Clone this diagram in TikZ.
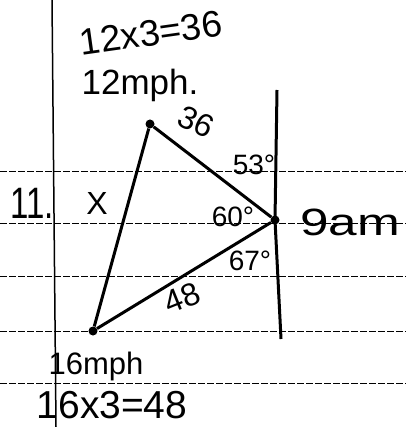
\documentclass[tikz,border=0pt]{standalone}
\usepackage{fontspec}
\setmainfont{Liberation Sans}
\usetikzlibrary{positioning, calc}

\begin{document}
\begin{tikzpicture}[x=1pt, y=-1pt,
    vertex/.style={circle, fill=black, inner sep=0pt, minimum size=9pt},
    side/.style={line width=3pt},
    note/.style={inner sep=0pt, font=\fontsize{#1}{#1}\selectfont},
    note/.default=30,
    rule/.style={line width=0.7pt, dash pattern=on 7pt off 2pt}
]
\useasboundingbox (0,0) rectangle (406,427);

% notebook paper
\foreach \y in {171,223,276,331,383}
    \draw[rule] (0,\y) -- (406,\y);
\draw[line width=1.5pt] (52,0) -- (56,427);

% the three positions
\node[vertex] (top) at (150,124) {};
\node[vertex] (east) at (275,220) {};
\node[vertex] (low) at (93,331) {};

% north line through the 9am point
\coordinate (northtop) at (277,90);
\coordinate (northbot) at (281,339);
\draw[side] (northtop) -- (east.center) -- (northbot);

\draw[side] (top) -- (east);
\draw[side] (east) -- (low);
\draw[side] (low) -- (top);

\node[note=37, rotate=8] (calcA) at (151,33) {12x3=36};
\node[note=35] (speedA) at (140,85) {12mph.};
\node[note=32, rotate=-25] (distA) at (196,122) {36};
\node[note=28] (angA) at (254,165) {53°};
\node[note=44, xscale=0.75] (num) at (32,203) {11.};
\node[note=32] (sideX) at (97,203) {X};
\node[note=28] (angB) at (233,217) {60°};
\node[note=38, xscale=1.35] (time) at (350,222) {9am};
\node[note=28] (angC) at (250,261) {67°};
\node[note=32, rotate=22] (distB) at (182,298) {48};
\node[note=31] (speedB) at (96,366) {16mph};
\node[note=39] (calcB) at (112,405) {16x3=48};
\end{tikzpicture}
\end{document}
